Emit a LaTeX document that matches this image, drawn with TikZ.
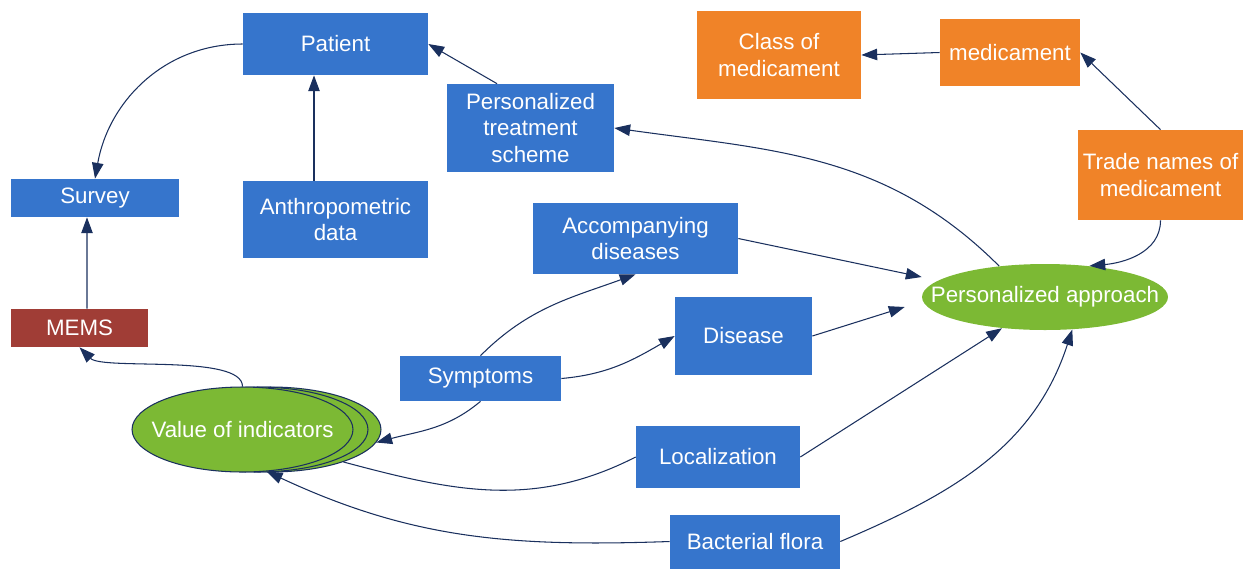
\documentclass[tikz,border=0pt]{standalone}
\usepackage{fontspec}
\setmainfont{Liberation Sans}
\usetikzlibrary{shapes,arrows.meta}
\definecolor{boxblue}{RGB}{54,117,204}
\definecolor{boxorange}{RGB}{240,131,40}
\definecolor{boxred}{RGB}{160,61,54}
\definecolor{ovalgreen}{RGB}{124,185,52}
\definecolor{linknavy}{RGB}{26,48,94}
\tikzset{
  box/.style={shape=rectangle,fill=boxblue,text=white,align=center,inner sep=0pt,font=\fontsize{12.7}{15.3}\selectfont},
  oval/.style={shape=ellipse,fill=ovalgreen,text=white,align=center,inner ysep=0pt,font=\fontsize{12.7}{15.3}\selectfont},
  link/.style={-{Triangle[length=9pt,width=6.5pt]},draw=linknavy,line width=0.6pt},
  line/.style={draw=linknavy,line width=0.6pt}
}

\begin{document}
\begin{tikzpicture}[x=0.02cm,y=-0.02cm]
\useasboundingbox (0,0) rectangle (1243,569);
\node[box,minimum width=3.7cm,minimum height=1.24cm] (0) at (335.5,44) {Patient};
\node[box,minimum width=3.36cm,minimum height=0.76cm] (1) at (95,198) {Survey};
\node[box,minimum width=3.7cm,minimum height=1.54cm] (2) at (335.5,219.5) {Anthropometric\\data};
\node[box,minimum width=3.34cm,minimum height=1.76cm] (3) at (530.5,128) {Personalized\\treatment\\scheme};
\node[box,minimum width=4.1cm,minimum height=1.42cm] (4) at (635.5,238.5) {Accompanying\\diseases};
\node[box,minimum width=2.74cm,minimum height=1.56cm] (5) at (743.5,336) {Disease};
\node[box,minimum width=3.22cm,minimum height=0.9cm] (6) at (480.5,378.5) {Symptoms};
\node[box,fill=boxred,minimum width=2.74cm,minimum height=0.76cm] (7) at (79.5,328) {MEMS};
\node[oval,draw=linknavy,line width=0.6pt,inner xsep=0pt,minimum width=4.42cm,minimum height=1.7cm] (8) at (270.5,429.5) {};
\node[oval,draw=linknavy,line width=0.6pt,inner xsep=0pt,minimum width=4.42cm,minimum height=1.7cm] (9) at (257.5,429.5) {};
\node[oval,draw=linknavy,line width=0.6pt,inner xsep=-0.28cm,minimum width=4.42cm,minimum height=1.7cm] (10) at (242.5,429.5) {Value of indicators};
\node[box,minimum width=3.28cm,minimum height=1.24cm] (11) at (718,457) {Localization};
\node[box,minimum width=3.4cm,minimum height=1.08cm] (12) at (755,541.5) {Bacterial flora};
\node[oval,inner xsep=-0.55cm,minimum width=4.92cm,minimum height=1.32cm] (13) at (1045,297) {Personalized approach};
\node[box,fill=boxorange,minimum width=3.28cm,minimum height=1.76cm] (14) at (779,55) {Class of\\medicament};
\node[box,fill=boxorange,minimum width=2.8cm,minimum height=1.34cm] (15) at (1010,52.5) {medicament};
\node[box,fill=boxorange,minimum width=3.3cm,minimum height=1.8cm] (16) at (1160.5,175) {Trade names of\\medicament};

\path (0.west) edge[link,out=180,in=80] (1.north);
\path ([xshift=-0.43cm]2.north) edge[link] ([xshift=-0.43cm]0.south);
\path ([xshift=0.15cm]7.north) edge[link] ([xshift=-0.16cm]1.south);
\path (10.north) edge[link,out=90,in=-45,looseness=0.5] (7.south);
\path ([xshift=-0.67cm]3.north) edge[link] (0.east);
\path (6.north) edge[link,out=45,in=200] (4.south);
\path (6.east) edge[link,out=5,in=210] (5.west);
\path (6.south) edge[link,out=-140,in=15] (8.-7);
\path (8.-24) edge[line,out=-15,in=207] (11.west);
\path (12.west) edge[link,out=182,in=-25] (10.-60);
\path (11.east) edge[link] (13.216);
\path (12.east) edge[link,out=23,in=-108] (13.-50);
\path (4.east) edge[link] ([yshift=0.4cm]13.west);
\path (5.east) edge[link] ([xshift=-0.34cm,yshift=-0.2cm]13.west);
\path (13.146) edge[link,out=135,in=-8] (3.east);
\path (16.south) edge[link,out=-90,in=5] (13.35);
\path (16.north) edge[link] (15.east);
\path (15.west) edge[link] (14.east);
\end{tikzpicture}
\end{document}
